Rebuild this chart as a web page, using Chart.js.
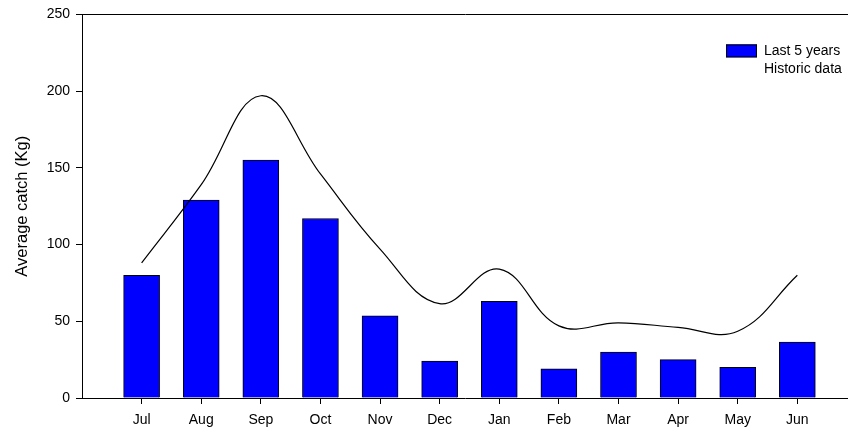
<!DOCTYPE html>
<html>
<head>
<meta charset="utf-8">
<title>Average catch</title>
<script src="https://cdn.jsdelivr.net/npm/chart.js@4/dist/chart.umd.min.js"></script>
<style>
    html, body { margin: 0; padding: 0; background: #fff; }
    #wrap { width: 848px; height: 429px; }
</style>
</head>
<body>
<div id="wrap"><canvas id="catchChart" width="848" height="429"></canvas></div>
<script>
// 月份（7月到次年6月）
const months = ['Jul', 'Aug', 'Sep', 'Oct', 'Nov', 'Dec', 'Jan', 'Feb', 'Mar', 'Apr', 'May', 'Jun'];
// 近5年平均渔获量
const last5Years = [80, 129, 155, 117, 53.5, 24, 63, 19, 30, 25, 20, 36.5];
// 历史数据
const historic = [88, 139, 197, 146, 97, 61.5, 84, 47, 49, 46, 43.5, 80];
// y轴刻度
const yTicks = [0, 50, 100, 150, 200, 250];

const FONT = '"Liberation Sans", Arial, sans-serif';

// 图例：画在绘图区右上角
const cornerLegend = {
    id: 'cornerLegend',
    afterDraw(chart) {
        const { ctx, chartArea } = chart;
        const x = chartArea.right - 122;
        const y = chartArea.top + 30;
        const ds = chart.data.datasets;
        ctx.save();
        ctx.fillStyle = '#0000ff';
        ctx.fillRect(x, y, 31, 13);
        ctx.strokeStyle = '#000';
        ctx.lineWidth = 1;
        ctx.strokeRect(x + 0.5, y + 0.5, 30, 12);
        ctx.fillStyle = '#000';
        ctx.font = '14px ' + FONT;
        ctx.textBaseline = 'middle';
        ctx.fillText(ds[1].label, x + 38, y + 7);
        ctx.fillText(ds[0].label, x + 38, y + 25);
        ctx.restore();
    }
};

new Chart(document.getElementById('catchChart'), {
    data: {
        datasets: [{
            type: 'line',
            label: 'Historic data',
            data: historic.map((v, i) => ({ x: i, y: v })),
            borderColor: '#000',
            borderWidth: 1.2,
            pointRadius: 0,
            tension: 0.4,
            fill: false,
            order: 0
        }, {
            type: 'bar',
            label: 'Last 5 years',
            data: last5Years.map((v, i) => ({ x: i, y: v })),
            backgroundColor: '#0000ff',
            borderColor: '#000',
            borderWidth: 1,
            barThickness: 36,
            order: 1
        }]
    },
    options: {
        responsive: false,
        animation: false,
        layout: { padding: 0 },
        plugins: {
            legend: { display: false },
            tooltip: { enabled: false }
        },
        scales: {
            x: {
                type: 'linear',
                position: 'bottom',
                min: -1,
                max: 11.85,
                offset: false,
                afterFit: s => { s.height = 31; },
                afterBuildTicks: s => { s.ticks = months.map((m, i) => ({ value: i })); },
                grid: { display: true, offset: false, drawOnChartArea: false, drawTicks: true, tickLength: 6, color: '#000' },
                border: { display: true, color: '#000', width: 1 },
                ticks: {
                    autoSkip: false,
                    maxRotation: 0,
                    padding: 8,
                    color: '#000',
                    font: { family: FONT, size: 14 },
                    callback: v => months[v] ?? ''
                }
            },
            xTop: {
                type: 'linear',
                position: 'top',
                min: 0,
                max: 1,
                afterFit: s => { s.height = 12; },
                grid: { display: false },
                border: { display: true, color: '#000', width: 1 },
                ticks: { display: false }
            },
            y: {
                min: 0,
                max: 250,
                afterFit: s => { s.width = 82; },
                afterBuildTicks: s => { s.ticks = yTicks.map(v => ({ value: v })); },
                grid: { display: true, drawOnChartArea: false, drawTicks: true, tickLength: 6, color: '#000' },
                border: { display: true, color: '#000', width: 1 },
                ticks: {
                    padding: 6,
                    color: '#000',
                    font: { family: FONT, size: 14 }
                },
                title: {
                    display: true,
                    text: 'Average catch (Kg)',
                    color: '#000',
                    font: { family: FONT, size: 16.5 },
                    padding: { top: 13, bottom: 0 }
                }
            }
        }
    },
    plugins: [cornerLegend]
});
</script>
</body>
</html>
